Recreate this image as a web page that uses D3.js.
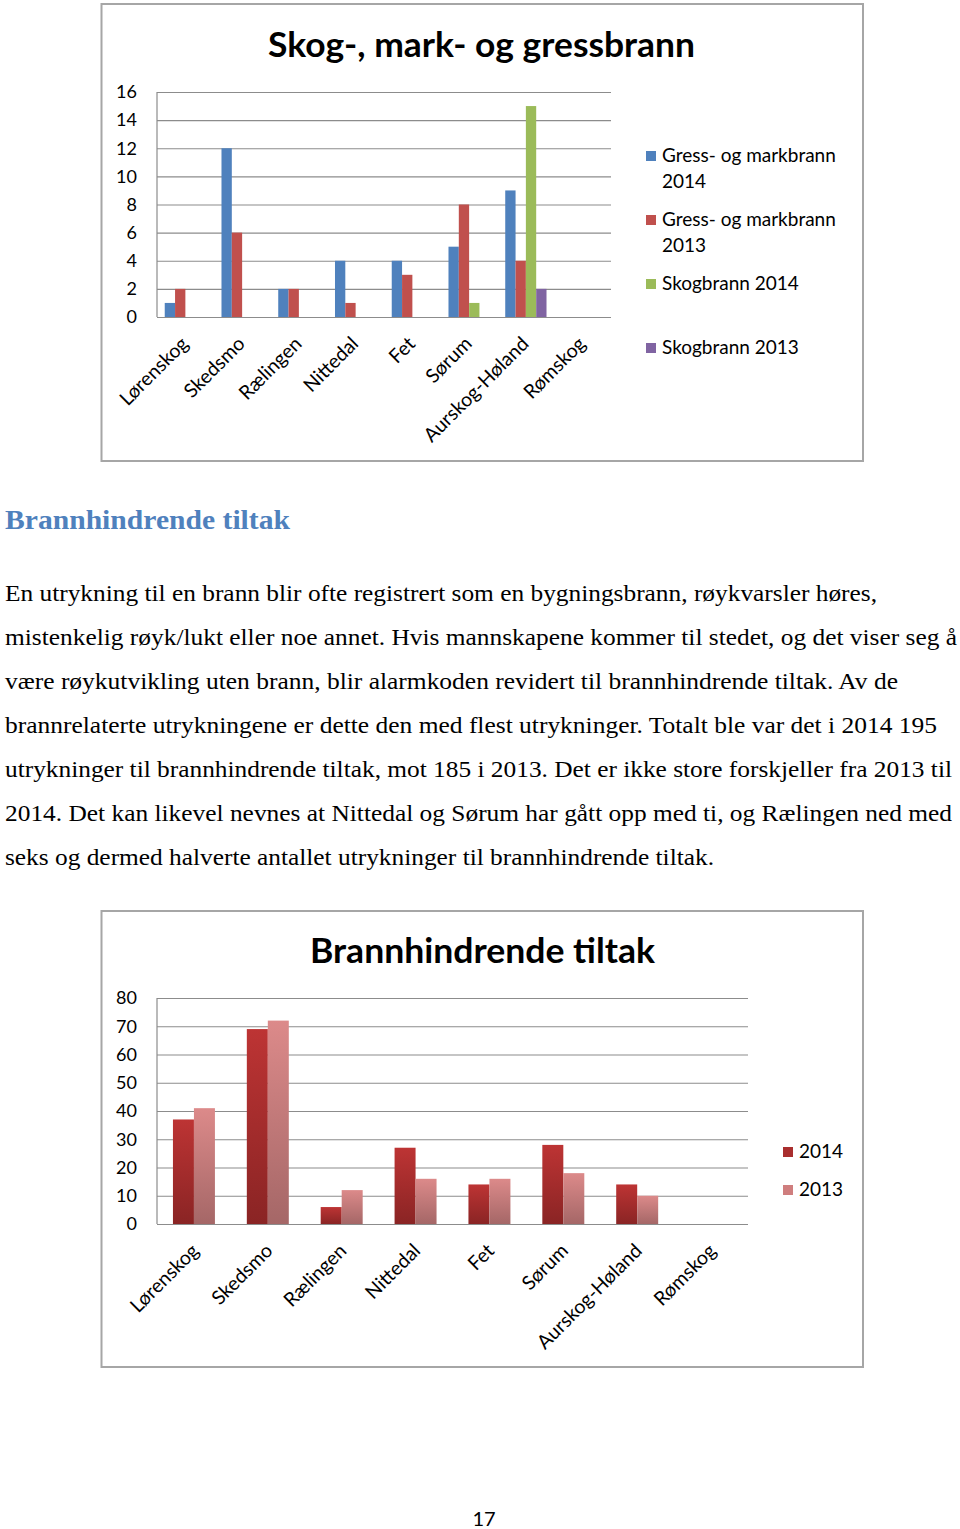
<!DOCTYPE html>
<html><head><meta charset="utf-8">
<script src="https://cdn.jsdelivr.net/npm/d3@7"></script>
<style>body{margin:0;background:#fff}svg{display:block}</style>
</head><body>
<script>
// ---- data ----
const municipalities = ["Lørenskog","Skedsmo","Rælingen","Nittedal","Fet","Sørum","Aurskog-Høland","Rømskog"];
const fireSeriesNames = ["Gress- og markbrann 2014","Gress- og markbrann 2013","Skogbrann 2014","Skogbrann 2013"];
const gress2014 = [1,12,2,4,4,5,9,0];
const gress2013 = [2,6,2,1,3,8,4,0];
const skog2014  = [0,0,0,0,0,1,15,0];
const skog2013  = [0,0,0,0,0,0,2,0];
const fireTicks = [0,2,4,6,8,10,12,14,16];

const tiltakSeriesNames = ["2014","2013"];
const tiltak2014 = [37,69,6,27,14,28,14,0];
const tiltak2013 = [41,72,12,16,16,18,10,0];
const tiltakTicks = [0,10,20,30,40,50,60,70,80];

const headingText = "Brannhindrende tiltak";
const bodyLines = [
 "En utrykning til en brann blir ofte registrert som en bygningsbrann, røykvarsler høres,",
 "mistenkelig røyk/lukt eller noe annet. Hvis mannskapene kommer til stedet, og det viser seg å",
 "være røykutvikling uten brann, blir alarmkoden revidert til brannhindrende tiltak. Av de",
 "brannrelaterte utrykningene er dette den med flest utrykninger. Totalt ble var det i 2014 195",
 "utrykninger til brannhindrende tiltak, mot 185 i 2013. Det er ikke store forskjeller fra 2013 til",
 "2014. Det kan likevel nevnes at Nittedal og Sørum har gått opp med ti, og Rælingen ned med",
 "seks og dermed halverte antallet utrykninger til brannhindrende tiltak."
];
const bodyLineWidths = [872,952,893,932,947,947,709];
const pageNumber = "17";

// ---- drawing ----
const W = 960, H = 1529;
const svg = d3.select("body").append("svg").attr("width", W).attr("height", H);
const defs = svg.append("defs");
const FONT = "Lato, 'Open Sans', sans-serif";

function grad(id, top, bottom){
  const g = defs.append("linearGradient").attr("id", id).attr("x1",0).attr("y1",0).attr("x2",0).attr("y2",1);
  g.append("stop").attr("offset","0%").attr("stop-color", top);
  g.append("stop").attr("offset","100%").attr("stop-color", bottom);
}
grad("gDark", "#bd3434", "#8a2424");
grad("gLight", "#dc8a8a", "#a56767");

function chart(opts){
  const g = svg.append("g");
  g.append("rect").attr("x", opts.box[0]).attr("y", opts.box[1])
    .attr("width", opts.box[2]).attr("height", opts.box[3])
    .attr("fill", "#fff").attr("stroke", "#a6a6a6").attr("stroke-width", 2);
  g.append("text").attr("x", opts.titleX).attr("y", opts.titleY)
    .attr("font-family", FONT).attr("font-weight", 700).attr("font-size", 35)
    .attr("textLength", opts.titleLen).attr("lengthAdjust", "spacingAndGlyphs")
    .attr("fill", "#000").text(opts.title);

  const x0 = d3.scaleBand().domain(municipalities).range([opts.plot.x0, opts.plot.x1]).paddingInner(0).paddingOuter(0);
  const x1 = d3.scaleBand().domain(d3.range(opts.series.length)).range([0, x0.bandwidth()]).paddingOuter(opts.outerPad).paddingInner(0);
  const y = d3.scaleLinear().domain([0, opts.ticks[opts.ticks.length-1]]).range([opts.plot.y0, opts.plot.y1]);

  const grid = d3.axisLeft(y).tickValues(opts.ticks).tickSize(-(opts.plot.x1 - opts.plot.x0)).tickFormat("");
  const gg = g.append("g").attr("transform", `translate(${opts.plot.x0},0)`).call(grid);
  gg.select(".domain").remove();
  gg.selectAll("line").attr("stroke", "#8c8c8c").attr("stroke-width", 1.2);
  g.append("line").attr("x1", opts.plot.x0).attr("x2", opts.plot.x0).attr("y1", opts.plot.y0).attr("y2", opts.plot.y1)
    .attr("stroke", "#8c8c8c").attr("stroke-width", 1.2);
  const ya = d3.axisLeft(y).tickValues(opts.ticks).tickSize(0).tickPadding(opts.tickPad);
  const ya_g = g.append("g").attr("transform", `translate(${opts.plot.x0},0)`).call(ya);
  ya_g.select(".domain").remove();
  ya_g.selectAll("text").attr("font-family", FONT).attr("font-size", 18).attr("fill", "#000");

  const grp = g.selectAll(".grp").data(municipalities).join("g")
    .attr("transform", d => `translate(${x0(d)},0)`);
  opts.series.forEach((vals, si) => {
    grp.append("rect")
      .attr("x", x1(si)).attr("width", x1.bandwidth())
      .attr("y", (d,i) => y(vals[i])).attr("height", (d,i) => y(0) - y(vals[i]))
      .attr("fill", opts.fills[si]);
  });

  g.selectAll(".xl").data(municipalities).join("text")
    .attr("transform", d => `translate(${x0(d) + x0.bandwidth()/2 + opts.labelDx},${opts.plot.y0 + 28}) rotate(-45)`)
    .attr("text-anchor", "end").attr("font-family", FONT).attr("font-size", 19.5).attr("fill", "#000")
    .text(d => d);

  opts.legend.forEach((it, i) => {
    g.append("rect").attr("x", opts.legX).attr("y", it.y - 5).attr("width", 10).attr("height", 10).attr("fill", opts.legFills[i]);
    const t = g.append("text").attr("x", opts.legX + 16).attr("y", it.y + 6)
      .attr("font-family", FONT).attr("font-size", 19).attr("fill", "#000");
    it.lines.forEach((ln, k) => t.append("tspan").attr("x", opts.legX + 16).attr("dy", k ? 26 : 0).text(ln));
  });
}

chart({
  box: [101.5, 4, 761.5, 457], title: "Skog-, mark- og gressbrann", titleX: 268, titleY: 57, titleLen: 427,
  plot: {x0: 157, x1: 611, y0: 317, y1: 92}, ticks: fireTicks, tickPad: 20,
  series: [gress2014, gress2013, skog2014, skog2013], outerPad: 0.75,
  fills: ["#4f81bd","#c0504d","#9bbb59","#8064a2"], labelDx: 4,
  legX: 646, legFills: ["#4f81bd","#c0504d","#9bbb59","#8064a2"],
  legend: [
    {y: 156, lines: ["Gress- og markbrann","2014"]},
    {y: 220, lines: ["Gress- og markbrann","2013"]},
    {y: 284, lines: ["Skogbrann 2014"]},
    {y: 348, lines: ["Skogbrann 2013"]}
  ]
});

chart({
  box: [101.5, 911, 761.5, 456], title: "Brannhindrende tiltak", titleX: 310, titleY: 963, titleLen: 345,
  plot: {x0: 157, x1: 748, y0: 1224, y1: 998}, ticks: tiltakTicks, tickPad: 20,
  series: [tiltak2014, tiltak2013], outerPad: 0.76,
  fills: ["url(#gDark)","url(#gLight)"], labelDx: 6,
  legX: 783, legFills: ["#a92e2e","#cf7e7e"],
  legend: [
    {y: 1152, lines: ["2014"]},
    {y: 1190, lines: ["2013"]}
  ]
});

svg.append("text").attr("x", 5).attr("y", 529)
  .attr("font-family", "'Liberation Serif', 'DejaVu Serif', serif").attr("font-weight", 700).attr("font-size", 27)
  .attr("fill", "#4f81bd").attr("textLength", 285).attr("lengthAdjust", "spacingAndGlyphs").text(headingText);

svg.selectAll(".body").data(bodyLines).join("text")
  .attr("x", 5).attr("y", (d,i) => 601 + i*44)
  .attr("font-family", "'Liberation Serif', 'Times New Roman', serif").attr("font-size", 24).attr("fill", "#000")
  .attr("textLength", (d,i) => bodyLineWidths[i]).attr("lengthAdjust", "spacingAndGlyphs")
  .text(d => d);

svg.append("text").attr("x", 484).attr("y", 1526).attr("text-anchor", "middle")
  .attr("font-family", FONT).attr("font-size", 20).attr("fill", "#000").text(pageNumber);
</script>
</body></html>
